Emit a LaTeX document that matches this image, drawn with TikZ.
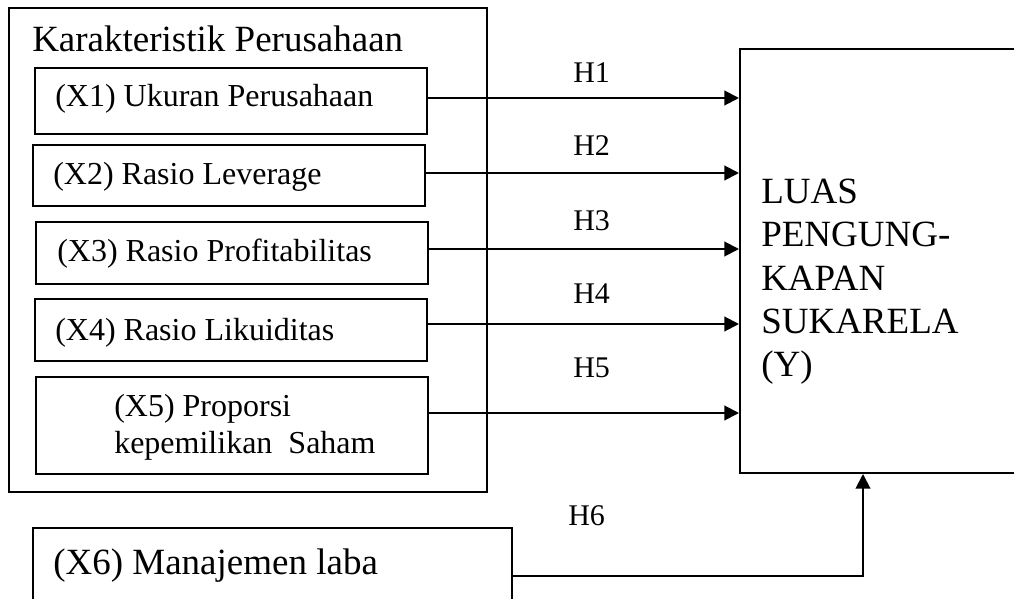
\documentclass[tikz,border=0pt]{standalone}
\usepackage{fontspec}
\setmainfont{Liberation Serif}
\usetikzlibrary{arrows.meta,fit}
\begin{document}
\begin{tikzpicture}[x=0.75pt,y=-0.75pt,
  box/.style={draw,line width=1.5pt,inner sep=0pt},
  lbl/.style={anchor=base west,inner sep=0pt,font=\fontsize{24}{28}\selectfont},
  hl/.style={anchor=base west,inner sep=0pt,font=\fontsize{22.5}{26}\selectfont},
  big/.style={anchor=base west,inner sep=0pt,font=\fontsize{27.75}{32}\selectfont},
  arr/.style={line width=1.5pt,-{Triangle[length=11pt,width=11pt]}}]
\useasboundingbox (0,0) rectangle (1014,599);
\clip (0,0) rectangle (1014,599);
% outer group
\node[box,fit={(9,8) (487,492)}] (outer) {};
\node[big] (title) at (32,52) {Karakteristik Perusahaan};
% inner boxes
\node[box,fit={(35,68) (427,134)}] (x1) {};
\node[box,fit={(33,145) (425,206)}] (x2) {};
\node[box,fit={(36,222) (428,284)}] (x3) {};
\node[box,fit={(35,299) (427,361)}] (x4) {};
\node[box,fit={(36,377) (428,474)}] (x5) {};
\node[lbl] (t1) at (55,107) {(X1) Ukuran Perusahaan};
\node[lbl] (t2) at (53,185) {(X2) Rasio Leverage};
\node[lbl] (t3) at (57,262) {(X3) Rasio Profitabilitas};
\node[lbl] (t4) at (55,340) {(X4) Rasio Likuiditas};
\node[lbl] (t5a) at (114,416) {(X5) Proporsi};
\node[lbl] (t5b) at (114,453) {kepemilikan\ \ Saham};
% X6
\node[box,fit={(33,528) (512,640)}] (x6) {};
\node[big] (t6) at (53,574) {(X6) Manajemen laba};
% dependent
\node[box,fit={(740,49) (1040,473)}] (Y) {};
\node[big] (y1) at (761,204) {LUAS};
\node[big] (y2) at (761,247) {PENGUNG-};
\node[big] (y3) at (761,290) {KAPAN};
\node[big] (y4) at (761,333) {SUKARELA};
\node[big] (y5) at (761,376) {(Y)};
% arrows
\draw[arr] (x1.east |- 0,98) -- (Y.west |- 0,98);
\draw[arr] (x2.east |- 0,173) -- (Y.west |- 0,173);
\draw[arr] (x3.east |- 0,249) -- (Y.west |- 0,249);
\draw[arr] (x4.east |- 0,324) -- (Y.west |- 0,324);
\draw[arr] (x5.east |- 0,413) -- (Y.west |- 0,413);
\coordinate (turn) at (863,576);
\draw[arr] (x6.east |- turn) -- (turn) -- (turn |- Y.south);
% labels
\node[hl] (h1) at (573,83) {H1};
\node[hl] (h2) at (573,156) {H2};
\node[hl] (h3) at (573,230) {H3};
\node[hl] (h4) at (573,303) {H4};
\node[hl] (h5) at (573,377) {H5};
\node[hl] (h6) at (568,525) {H6};
\end{tikzpicture}
\end{document}
